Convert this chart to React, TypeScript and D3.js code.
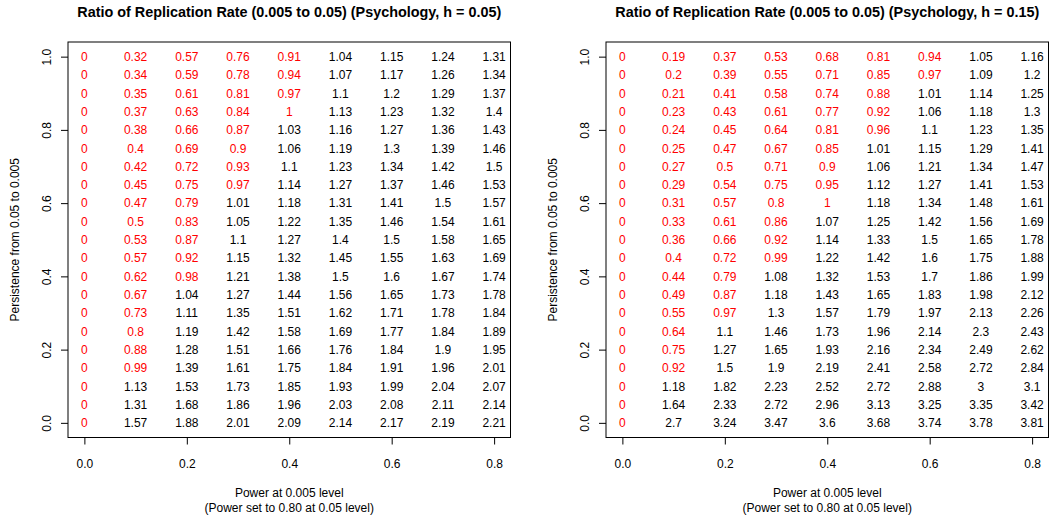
import { useEffect, useRef } from "react";
import { axisBottom, axisLeft, scaleLinear, select } from "d3";

// columns (power at 0.005) and rows (persistence, top row first)
const powerLevels = [0, 0.1, 0.2, 0.3, 0.4, 0.5, 0.6, 0.7, 0.8];
const persistenceLevels = [
  1, 0.95, 0.9, 0.85, 0.8, 0.75, 0.7, 0.65, 0.6, 0.55, 0.5, 0.45, 0.4, 0.35,
  0.3, 0.25, 0.2, 0.15, 0.1, 0.05, 0,
];
const xTicks = [0, 0.2, 0.4, 0.6, 0.8];
const yTicks = [0, 0.2, 0.4, 0.6, 0.8, 1];

const ratioH005 = [
  [0, 0.32, 0.57, 0.76, 0.91, 1.04, 1.15, 1.24, 1.31],
  [0, 0.34, 0.59, 0.78, 0.94, 1.07, 1.17, 1.26, 1.34],
  [0, 0.35, 0.61, 0.81, 0.97, 1.1, 1.2, 1.29, 1.37],
  [0, 0.37, 0.63, 0.84, 1, 1.13, 1.23, 1.32, 1.4],
  [0, 0.38, 0.66, 0.87, 1.03, 1.16, 1.27, 1.36, 1.43],
  [0, 0.4, 0.69, 0.9, 1.06, 1.19, 1.3, 1.39, 1.46],
  [0, 0.42, 0.72, 0.93, 1.1, 1.23, 1.34, 1.42, 1.5],
  [0, 0.45, 0.75, 0.97, 1.14, 1.27, 1.37, 1.46, 1.53],
  [0, 0.47, 0.79, 1.01, 1.18, 1.31, 1.41, 1.5, 1.57],
  [0, 0.5, 0.83, 1.05, 1.22, 1.35, 1.46, 1.54, 1.61],
  [0, 0.53, 0.87, 1.1, 1.27, 1.4, 1.5, 1.58, 1.65],
  [0, 0.57, 0.92, 1.15, 1.32, 1.45, 1.55, 1.63, 1.69],
  [0, 0.62, 0.98, 1.21, 1.38, 1.5, 1.6, 1.67, 1.74],
  [0, 0.67, 1.04, 1.27, 1.44, 1.56, 1.65, 1.73, 1.78],
  [0, 0.73, 1.11, 1.35, 1.51, 1.62, 1.71, 1.78, 1.84],
  [0, 0.8, 1.19, 1.42, 1.58, 1.69, 1.77, 1.84, 1.89],
  [0, 0.88, 1.28, 1.51, 1.66, 1.76, 1.84, 1.9, 1.95],
  [0, 0.99, 1.39, 1.61, 1.75, 1.84, 1.91, 1.96, 2.01],
  [0, 1.13, 1.53, 1.73, 1.85, 1.93, 1.99, 2.04, 2.07],
  [0, 1.31, 1.68, 1.86, 1.96, 2.03, 2.08, 2.11, 2.14],
  [0, 1.57, 1.88, 2.01, 2.09, 2.14, 2.17, 2.19, 2.21],
];

const ratioH015 = [
  [0, 0.19, 0.37, 0.53, 0.68, 0.81, 0.94, 1.05, 1.16],
  [0, 0.2, 0.39, 0.55, 0.71, 0.85, 0.97, 1.09, 1.2],
  [0, 0.21, 0.41, 0.58, 0.74, 0.88, 1.01, 1.14, 1.25],
  [0, 0.23, 0.43, 0.61, 0.77, 0.92, 1.06, 1.18, 1.3],
  [0, 0.24, 0.45, 0.64, 0.81, 0.96, 1.1, 1.23, 1.35],
  [0, 0.25, 0.47, 0.67, 0.85, 1.01, 1.15, 1.29, 1.41],
  [0, 0.27, 0.5, 0.71, 0.9, 1.06, 1.21, 1.34, 1.47],
  [0, 0.29, 0.54, 0.75, 0.95, 1.12, 1.27, 1.41, 1.53],
  [0, 0.31, 0.57, 0.8, 1, 1.18, 1.34, 1.48, 1.61],
  [0, 0.33, 0.61, 0.86, 1.07, 1.25, 1.42, 1.56, 1.69],
  [0, 0.36, 0.66, 0.92, 1.14, 1.33, 1.5, 1.65, 1.78],
  [0, 0.4, 0.72, 0.99, 1.22, 1.42, 1.6, 1.75, 1.88],
  [0, 0.44, 0.79, 1.08, 1.32, 1.53, 1.7, 1.86, 1.99],
  [0, 0.49, 0.87, 1.18, 1.43, 1.65, 1.83, 1.98, 2.12],
  [0, 0.55, 0.97, 1.3, 1.57, 1.79, 1.97, 2.13, 2.26],
  [0, 0.64, 1.1, 1.46, 1.73, 1.96, 2.14, 2.3, 2.43],
  [0, 0.75, 1.27, 1.65, 1.93, 2.16, 2.34, 2.49, 2.62],
  [0, 0.92, 1.5, 1.9, 2.19, 2.41, 2.58, 2.72, 2.84],
  [0, 1.18, 1.82, 2.23, 2.52, 2.72, 2.88, 3, 3.1],
  [0, 1.64, 2.33, 2.72, 2.96, 3.13, 3.25, 3.35, 3.42],
  [0, 2.7, 3.24, 3.47, 3.6, 3.68, 3.74, 3.78, 3.81],
];

const titles = [
  "Ratio of Replication Rate (0.005 to 0.05) (Psychology, h = 0.05)",
  "Ratio of Replication Rate (0.005 to 0.05) (Psychology, h = 0.15)",
];

const W = 1049;
const H = 521;
const FONT = "'Liberation Sans', Arial, Helvetica, sans-serif";

export default function App() {
  const svgRef = useRef<SVGSVGElement>(null);

  useEffect(() => {
    const svg = select(svgRef.current);
    svg.selectAll("*").remove();

    const panels = [
      { left: 68, data: ratioH005, title: titles[0] },
      { left: 606, data: ratioH015, title: titles[1] },
    ];
    const boxW = 442.5;
    const top = 42;
    const bottom = 437.5;

    panels.forEach((p) => {
      const right = p.left + boxW;
      // R style 4% padding
      const padX = (boxW / 1.08) * 0.04;
      const padY = ((bottom - top) / 1.08) * 0.04;
      const x = scaleLinear()
        .domain([0, 0.8])
        .range([p.left + padX, right - padX]);
      const y = scaleLinear()
        .domain([0, 1])
        .range([bottom - padY, top + padY]);

      const g = svg.append("g").attr("font-family", FONT);

      // title
      g.append("text")
        .attr("x", (p.left + right) / 2)
        .attr("y", 17)
        .attr("text-anchor", "middle")
        .attr("font-weight", "bold")
        .attr("font-size", 14.4)
        .text(p.title);

      // x axis
      const xAxis = axisBottom(x)
        .tickValues(xTicks)
        .tickSize(7)
        .tickPadding(15)
        .tickFormat((d: any) => (+d).toFixed(1));
      const gx = g
        .append("g")
        .attr("transform", `translate(0,${bottom})`)
        //@ts-ignore
        .call(xAxis);
      gx.select(".domain").remove();
      gx.selectAll("text").attr("font-size", 12).attr("font-family", FONT);

      // y axis, labels rotated like R's las = 0
      const yAxis = axisLeft(y)
        .tickValues(yTicks)
        .tickSize(7)
        .tickFormat((d: any) => (+d).toFixed(1));
      const gy = g
        .append("g")
        .attr("transform", `translate(${p.left},0)`)
        //@ts-ignore
        .call(yAxis);
      gy.select(".domain").remove();
      gy.selectAll("text")
        .attr("font-size", 12)
        .attr("font-family", FONT)
        .attr("x", null)
        .attr("dy", null)
        .attr("y", 0)
        .attr("text-anchor", "middle")
        .attr("transform", "translate(-17,0) rotate(-90)");

      // box
      g.append("rect")
        .attr("x", p.left)
        .attr("y", top)
        .attr("width", boxW)
        .attr("height", bottom - top)
        .attr("fill", "none")
        .attr("stroke", "#000")
        .attr("stroke-width", 1);

      // axis titles
      g.append("text")
        .attr("x", (p.left + right) / 2)
        .attr("y", 497)
        .attr("text-anchor", "middle")
        .attr("font-size", 12)
        .text("Power at 0.005 level");
      g.append("text")
        .attr("x", (p.left + right) / 2)
        .attr("y", 512)
        .attr("text-anchor", "middle")
        .attr("font-size", 12)
        .text("(Power set to 0.80 at 0.05 level)");
      g.append("text")
        .attr("transform", `translate(${p.left - 49},${(top + bottom) / 2}) rotate(-90)`)
        .attr("text-anchor", "middle")
        .attr("font-size", 12)
        .text("Persistence from 0.05 to 0.005");

      // cell values
      const cells = p.data.flatMap((row, i) =>
        row.map((v, j) => ({ v, pw: powerLevels[j], ps: persistenceLevels[i] }))
      );
      g.append("g")
        .selectAll("text")
        .data(cells)
        .join("text")
        .attr("x", (d) => x(d.pw))
        .attr("y", (d) => y(d.ps))
        .attr("dy", "0.36em")
        .attr("text-anchor", "middle")
        .attr("font-size", 12)
        .attr("fill", (d) => (d.v <= 1 ? "#ff0000" : "#000000"))
        .text((d) => String(d.v));
    });
  }, []);

  return (
    <svg
      ref={svgRef}
      width={W}
      height={H}
      style={{ position: "absolute", left: 0, top: 0, background: "#fff" }}
    />
  );
}
